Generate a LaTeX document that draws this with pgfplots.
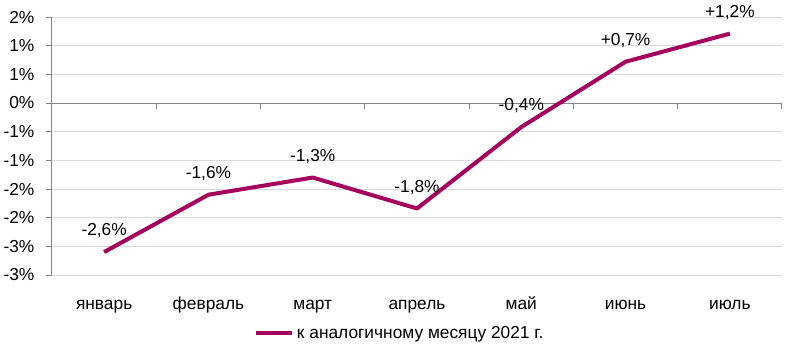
\documentclass[border=0pt]{standalone}
\usepackage{fontspec}
\setmainfont{Liberation Sans}
\usepackage{pgfplots}
\pgfplotsset{compat=1.18}
\definecolor{linec}{RGB}{166,0,94}
\definecolor{gridc}{RGB}{217,217,217}
\definecolor{axc}{RGB}{134,134,134}
\begin{document}
\fontsize{13pt}{16pt}\selectfont
\begin{tikzpicture}
\useasboundingbox (-39pt,-60pt) rectangle (561pt,206.25pt);
\begin{axis}[
  scale only axis, width=547.5pt, height=193.5pt,
  xmin=-0.5, xmax=6.5, ymin=-3, ymax=1.5,
  axis y line*=left, axis x line*=bottom,
  x axis line style={draw=none},
  y axis line style={axc, line width=0.75pt},
  xtick={0,1,2,3,4,5,6},
  xticklabels={январь,февраль,март,апрель,май,июнь,июль},
  x tick style={draw=none},
  xticklabel style={anchor=base, yshift=-21pt, inner sep=0pt},
  ytick={-3,-2.5,-2,-1.5,-1,-0.5,0,0.5,1,1.5},
  yticklabels={-3\%,-3\%,-2\%,-2\%,-1\%,-1\%,0\%,1\%,1\%,2\%},
  yticklabel style={anchor=east, inner sep=0pt, xshift=-8.5pt},
  tick align=outside,
  y tick style={axc, line width=0.75pt},
  major tick length=4.5pt,
  ymajorgrids, grid style={gridc, line width=0.75pt},
  legend style={at={(0.477,-0.226)}, anchor=center, draw=none, fill=none,
    font=\fontsize{13pt}{16pt}\selectfont},
  legend image code/.code={\draw[linec, line width=3pt] (0pt,0pt) -- (27pt,0pt);},
  clip=false,
]
\draw[axc, line width=0.75pt] (axis cs:-0.5,0) -- (axis cs:6.5,0);
\pgfplotsinvokeforeach{0.5,1.5,2.5,3.5,4.5,5.5,6.5}{
  \draw[axc, line width=0.75pt] (axis cs:#1,0) -- ([yshift=-4.5pt]axis cs:#1,0);
}
\addplot[linec, line width=3pt, mark=none, line join=round,
  nodes near coords, point meta=explicit symbolic,
  every node near coord/.append style={black, anchor=center, yshift=16pt, inner sep=0pt,
    font=\fontsize{13pt}{16pt}\selectfont}]
  coordinates {
    (0,-2.6) [{-2,6\%}]
    (1,-1.6) [{-1,6\%}]
    (2,-1.3) [{-1,3\%}]
    (3,-1.84) [{-1,8\%}]
    (4,-0.42) [{-0,4\%}]
    (5,0.72) [{+0,7\%}]
    (6,1.21) [{+1,2\%}]
  };
\addlegendentry{к аналогичному месяцу 2021 г.}
\end{axis}
\end{tikzpicture}
\end{document}
